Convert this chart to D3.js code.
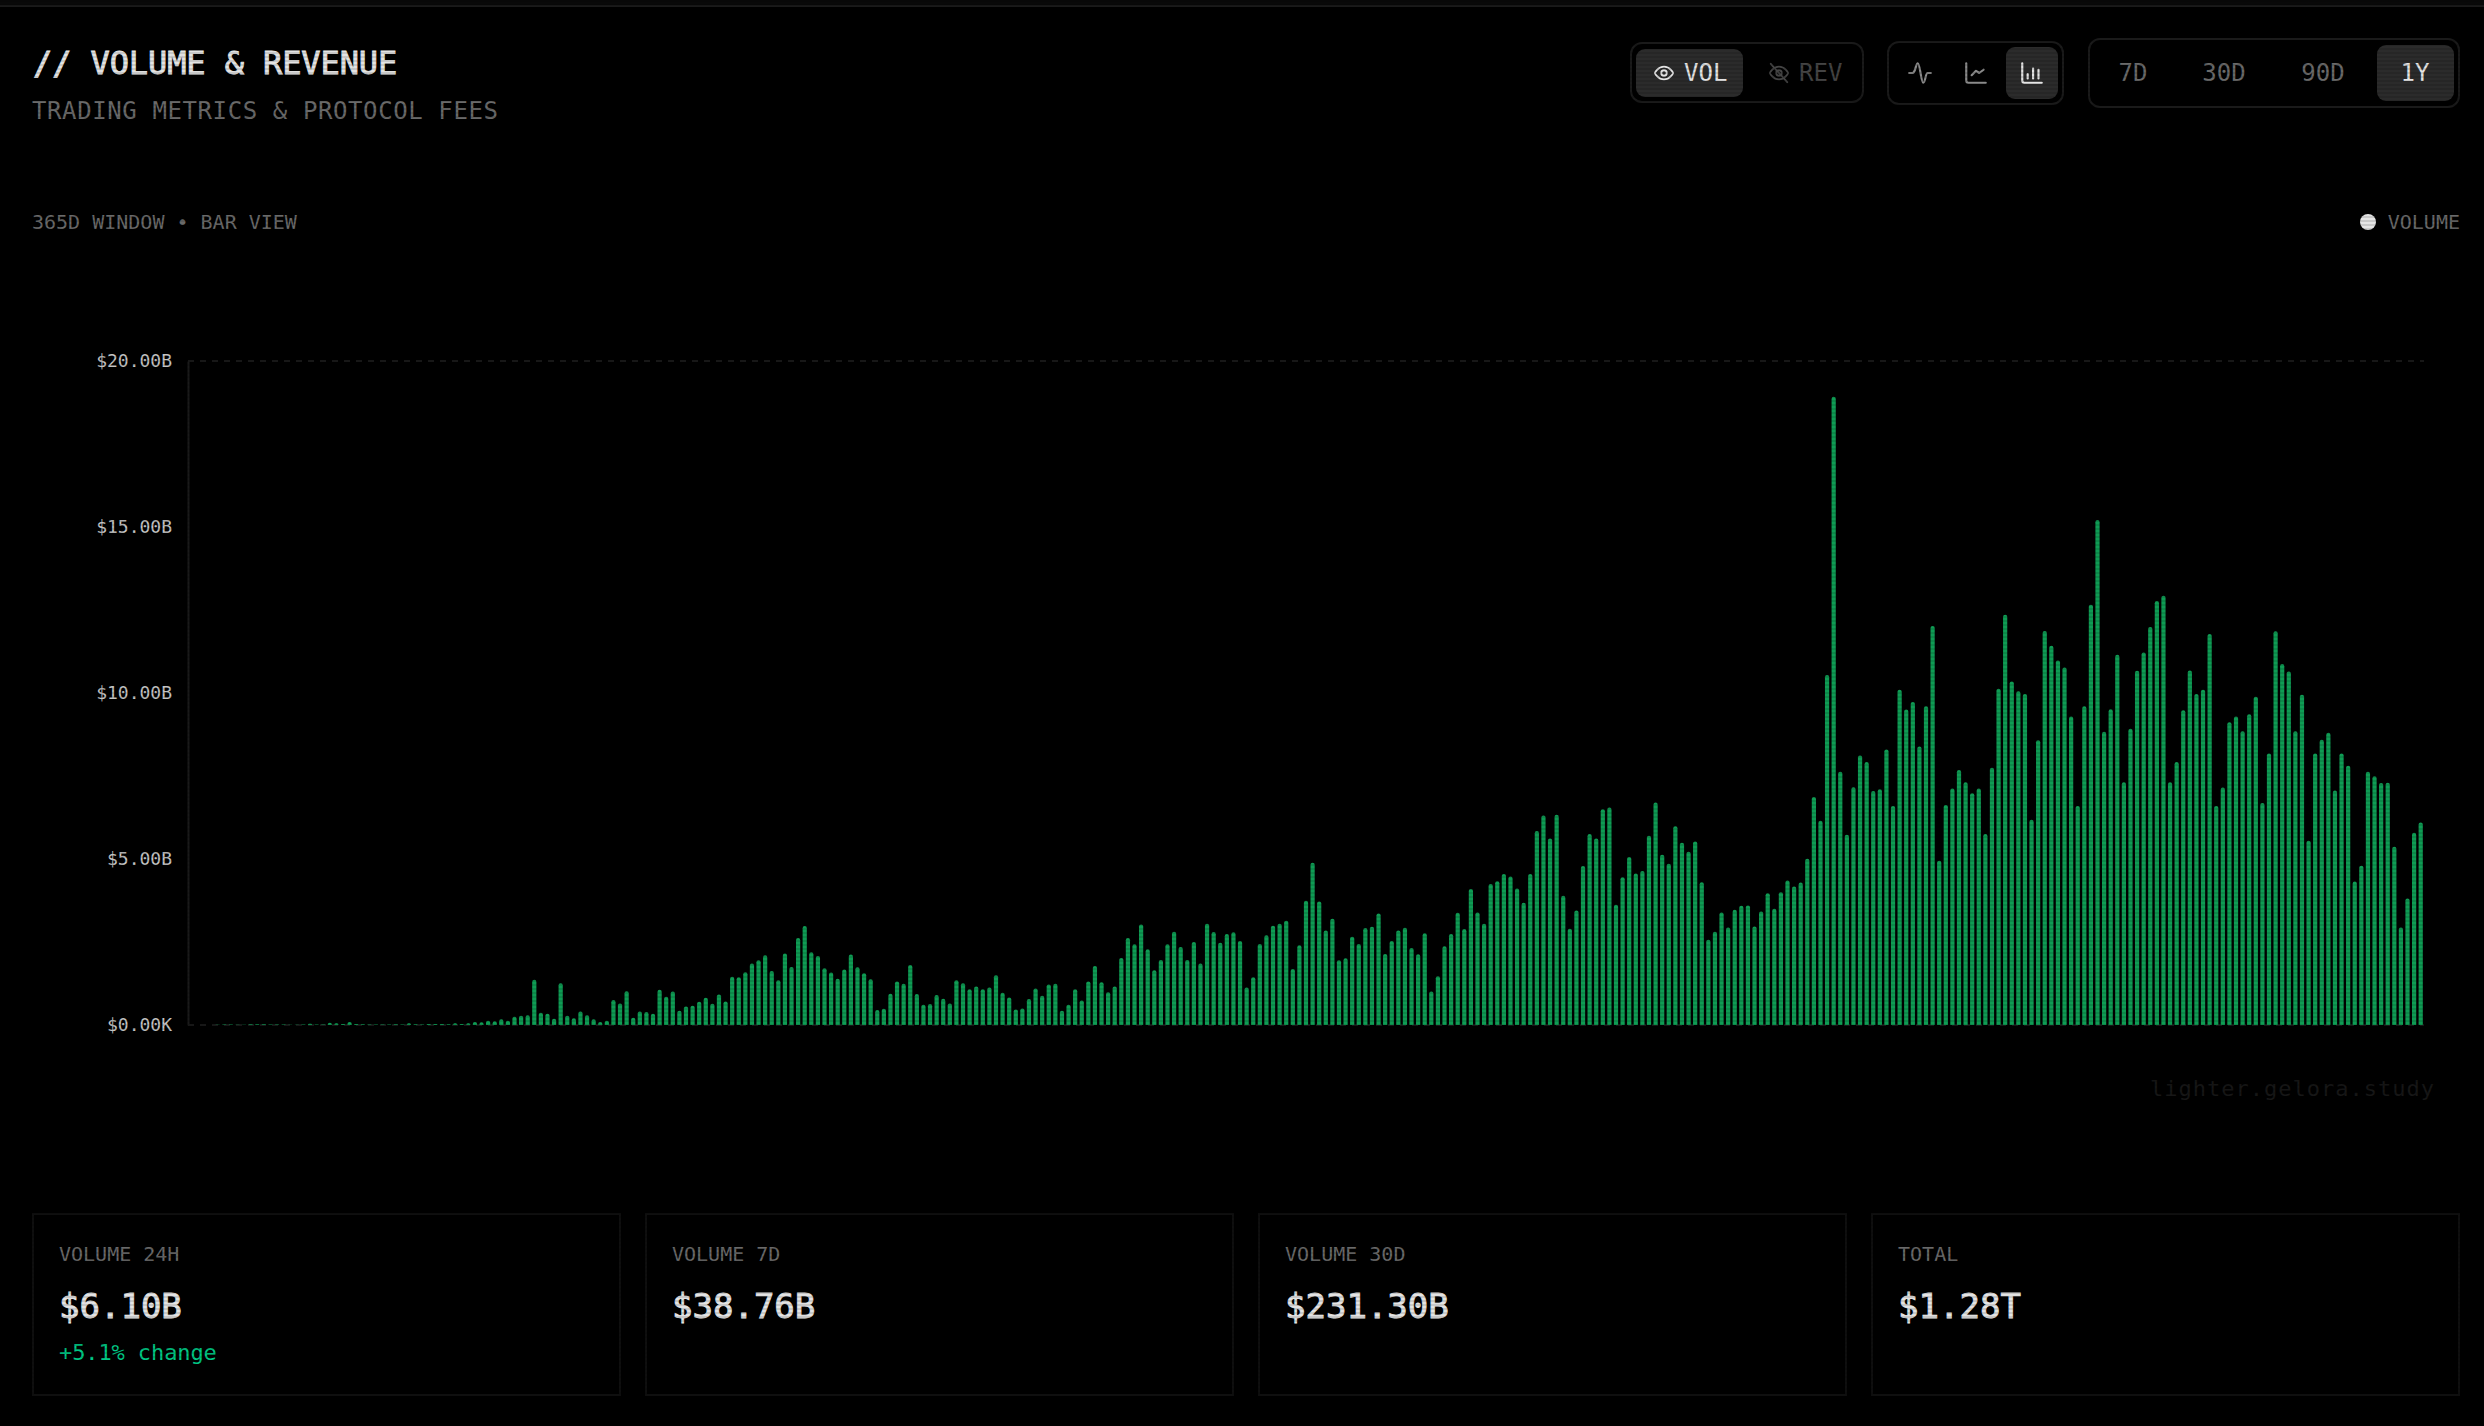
<!DOCTYPE html>
<html>
<head>
<meta charset="utf-8">
<title>Volume &amp; Revenue</title>
<script src="https://cdn.jsdelivr.net/npm/d3@7"></script>
<style>
  html, body { margin: 0; padding: 0; background: #000; overflow: hidden; }
  #chart { position: relative; width: 2484px; height: 1426px; }
  svg { display: block; }
  text { font-family: "DejaVu Sans Mono", monospace; }
  /* faint scanlines over the whole page */
  #scan {
    position: absolute; inset: 0; pointer-events: none;
    background: repeating-linear-gradient(0deg, rgba(0,0,0,0.12) 0 2px, transparent 2px 4px);
  }
</style>
</head>
<body>
<div id="chart"><div id="scan"></div></div>
<script>
// Daily volume in $B, oldest first
const volumeValues = [
  0, 0, 0, 0, .01, .015, .015, .01, .01, .02, .02, .02, .015, .015, .015, .01, .01, .015, .04, .015,
  .015, .07, .05, .03, .09, .03, .02, .015, .015, .015, .015, .02, .015, .05, .025, .015, .03, .03, .03, .025,
  .05, .03, .05, .09, .08, .13, .11, .17, .13, .25, .28, .29, 1.36, .37, .34, .19, 1.26, .28, .20, .41,
  .29, .17, .09, .13, .75, .65, 1.02, .22, .41, .39, .34, 1.06, .85, 1.01, .43, .56, .58, .70, .82, .64,
  .92, .71, 1.45, 1.44, 1.59, 1.85, 1.95, 2.10, 1.63, 1.35, 2.15, 1.75, 2.62, 2.98, 2.19, 2.08, 1.71, 1.58, 1.39, 1.67,
  2.12, 1.74, 1.56, 1.38, .45, .49, .94, 1.31, 1.24, 1.81, .93, .61, .63, .90, .79, .65, 1.35, 1.26, 1.08, 1.16,
  1.08, 1.13, 1.50, .97, .83, .47, .50, .78, 1.10, .88, 1.22, 1.24, .43, .61, 1.08, .74, 1.31, 1.78, 1.29, .99,
  1.16, 2.02, 2.62, 2.43, 3.03, 2.28, 1.65, 1.96, 2.43, 2.81, 2.35, 1.96, 2.50, 1.85, 3.05, 2.80, 2.48, 2.74, 2.79, 2.53,
  1.13, 1.44, 2.44, 2.70, 2.99, 3.05, 3.14, 1.69, 2.40, 3.74, 4.89, 3.72, 2.85, 3.20, 1.95, 2.01, 2.66, 2.44, 2.92, 2.96,
  3.36, 2.14, 2.53, 2.85, 2.93, 2.32, 2.13, 2.76, 1.01, 1.47, 2.37, 2.74, 3.38, 2.89, 4.10, 3.39, 3.05, 4.25, 4.33, 4.55,
  4.47, 4.11, 3.68, 4.55, 5.84, 6.31, 5.62, 6.33, 3.89, 2.90, 3.45, 4.79, 5.75, 5.62, 6.50, 6.55, 3.62, 4.45, 5.06, 4.56,
  4.64, 5.70, 6.70, 5.13, 4.86, 5.99, 5.49, 5.22, 5.53, 4.30, 2.57, 2.81, 3.39, 2.94, 3.47, 3.59, 3.60, 2.97, 3.42, 3.97,
  3.50, 4.00, 4.35, 4.17, 4.29, 5.01, 6.87, 6.15, 10.54, 18.92, 7.63, 5.73, 7.16, 8.12, 7.92, 7.05, 7.10, 8.30, 6.60, 10.10,
  9.50, 9.73, 8.39, 9.60, 12.02, 4.95, 6.63, 7.12, 7.68, 7.31, 6.98, 7.12, 5.75, 7.75, 10.13, 12.36, 10.35, 10.05, 9.97, 6.18,
  8.58, 11.87, 11.42, 10.98, 10.77, 9.29, 6.60, 9.60, 12.66, 15.21, 8.83, 9.51, 11.15, 7.31, 8.92, 10.67, 11.22, 11.99, 12.77, 12.93,
  7.31, 7.92, 9.48, 10.68, 9.97, 10.10, 11.78, 6.60, 7.15, 9.12, 9.29, 8.85, 9.36, 9.89, 6.69, 8.18, 11.86, 10.87, 10.65, 8.85,
  9.95, 5.55, 8.18, 8.59, 8.80, 7.06, 8.18, 7.81, 4.32, 4.80, 7.63, 7.49, 7.29, 7.30, 5.37, 2.94, 3.81, 5.79, 6.10
];

const yTickValues = [0, 5, 10, 15, 20];
const rangeLabels = ['7D', '30D', '90D', '1Y'];
const statLabels = ['VOLUME 24H', 'VOLUME 7D', 'VOLUME 30D', 'TOTAL'];
const statValues = ['$6.10B', '$38.76B', '$231.30B', '$1.28T'];

const COLORS = {
  bar: '#0f9c54',
  axis: '#1a1a1a',
  tick: '#c4c4c4',
  panel: '#1a1a1a',
  card: '#0f0f0f',
  active: '#2b2b2b',
  bright: '#e4e4e4',
  mid: '#6a6a6a',
  dim: '#444444',
  green: '#00c985',
};

const svg = d3.select('#chart')
  .insert('svg', '#scan')
  .attr('width', 2484)
  .attr('height', 1426)
  .attr('viewBox', '0 0 2484 1426');

function label(g, x, y, str, size, fill, opts = {}) {
  const t = g.append('text')
    .attr('x', x)
    .attr('y', y)
    .attr('font-size', size)
    .attr('fill', fill)
    .attr('text-anchor', opts.anchor || 'start')
    .attr('letter-spacing', opts.spacing || 0)
    .text(str);
  // no medium weight installed, so thicken the regular face a little
  if (opts.medium) t.attr('stroke', fill).attr('stroke-width', opts.medium);
  return t;
}

function panel(g, x0, y0, x1, y1, active) {
  g.append('rect')
    .attr('x', x0).attr('y', y0)
    .attr('width', x1 - x0).attr('height', y1 - y0)
    .attr('rx', active ? 9 : 11)
    .attr('fill', active ? COLORS.active : 'none')
    .attr('stroke', active ? 'none' : COLORS.panel)
    .attr('stroke-width', 2);
}

// paths are in a 24x24 box, centred on cx,cy
function icon(g, cx, cy, size, paths, stroke, circle) {
  const k = size / 24;
  const ig = g.append('g')
    .attr('transform', `translate(${cx - size / 2},${cy - size / 2}) scale(${k})`)
    .attr('fill', 'none')
    .attr('stroke', stroke)
    .attr('stroke-width', 2)
    .attr('stroke-linecap', 'round')
    .attr('stroke-linejoin', 'round');
  paths.forEach(d => ig.append('path').attr('d', d));
  if (circle) ig.append('circle').attr('cx', 12).attr('cy', 12).attr('r', 3);
}

function renderHeader() {
  const g = svg.append('g').attr('class', 'header');
  g.append('rect').attr('width', 2484).attr('height', 5).attr('fill', '#090909');
  g.append('rect').attr('y', 5).attr('width', 2484).attr('height', 2).attr('fill', COLORS.panel);
  label(g, 33, 74, '// VOLUME & REVENUE', 32, COLORS.bright, { medium: 0.9, spacing: -0.1 });
  label(g, 32, 119, 'TRADING METRICS & PROTOCOL FEES', 24, COLORS.mid, { spacing: 0.6 });
  label(g, 32, 229, '365D WINDOW \u2022 BAR VIEW', 20, COLORS.mid);
  g.append('circle').attr('cx', 2368).attr('cy', 222).attr('r', 8).attr('fill', COLORS.bright);
  label(g, 2460, 229, 'VOLUME', 20, COLORS.mid, { anchor: 'end' });
}

function renderControls() {
  const g = svg.append('g').attr('class', 'controls');
  const eye = 'M2 12s3-7 10-7 10 7 10 7-3 7-10 7-10-7-10-7Z';

  // metric toggle
  panel(g, 1631, 43, 1863, 102);
  panel(g, 1636, 49, 1743, 97, true);
  icon(g, 1664, 73, 22, [eye], COLORS.bright, true);
  label(g, 1684, 81, 'VOL', 24, COLORS.bright);
  icon(g, 1779, 73, 22, [eye, 'M3 2l18 20'], COLORS.dim, true);
  label(g, 1799, 81, 'REV', 24, COLORS.dim);

  // chart type toggle
  panel(g, 1888, 42, 2063, 104);
  panel(g, 2006, 47, 2058, 99, true);
  icon(g, 1920, 73, 26, ['M2 12h3c3 0 3-9 5-9s3 18 5 18 2-9 4-9h3'], '#8a8a8a');
  icon(g, 1976, 73, 26, ['M3 3v16a2 2 0 0 0 2 2h16', 'm19 9-4 3-3-2-4 4'], '#8a8a8a');
  icon(g, 2032, 73, 26, ['M3 3v16a2 2 0 0 0 2 2h16', 'M8 17v-4', 'M13 17V8', 'M18 17v-8'], COLORS.bright);

  // range toggle
  panel(g, 2089, 39, 2459, 107);
  panel(g, 2377, 45, 2454, 101, true);
  const centers = [2133, 2224, 2323, 2415];
  rangeLabels.forEach((t, i) => {
    label(g, centers[i], 81, t, 24, i === 3 ? COLORS.bright : COLORS.mid, { anchor: 'middle' });
  });
}

function renderChart() {
  const g = svg.append('g').attr('class', 'plot');
  const x = d3.scaleBand()
    .domain(d3.range(volumeValues.length))
    .range([188, 2424])
    .paddingInner(0.36)
    .paddingOuter(0.18);
  const y = d3.scaleLinear().domain([0, 20]).range([1025, 361]);

  // only the top and bottom grid lines show in the source
  [0, 20].forEach(v => {
    g.append('line')
      .attr('x1', 188).attr('x2', 2424)
      .attr('y1', y(v)).attr('y2', y(v))
      .attr('stroke', COLORS.axis)
      .attr('stroke-width', 2)
      .attr('stroke-dasharray', '6 6');
  });

  const axis = d3.axisLeft(y)
    .tickValues(yTickValues)
    .tickSize(0)
    .tickPadding(16)
    .tickFormat(v => (v === 0 ? '$0.00K' : `$${v.toFixed(2)}B`));
  const ag = g.append('g').attr('transform', 'translate(188,0)').call(axis);
  ag.select('.domain').attr('stroke', COLORS.axis).attr('stroke-width', 2);
  ag.selectAll('text')
    .attr('fill', COLORS.tick)
    .attr('font-size', 18)
    .attr('font-family', '"DejaVu Sans Mono", monospace');

  // rounded tops, flat bottoms
  const barPath = (v, i) => {
    const bx = x(i), w = x.bandwidth(), top = y(v), base = y(0);
    const r = Math.min(w / 2, base - top);
    return `M${bx},${base}V${top + r}Q${bx},${top} ${bx + r},${top}H${bx + w - r}Q${bx + w},${top} ${bx + w},${top + r}V${base}Z`;
  };
  g.append('g').selectAll('path')
    .data(volumeValues)
    .join('path')
    .attr('d', barPath)
    .attr('fill', COLORS.bar);

  label(g, 2435, 1096, 'lighter.gelora.study', 22, '#171717', { anchor: 'end', spacing: 1 });
}

function renderCards() {
  const g = svg.append('g').attr('class', 'cards');
  const cardX = d3.scaleBand().domain(d3.range(4)).range([33, 2459]).paddingInner(0.0425);
  statLabels.forEach((t, i) => {
    const x0 = cardX(i);
    g.append('rect')
      .attr('x', x0).attr('y', 1214)
      .attr('width', cardX.bandwidth()).attr('height', 181)
      .attr('fill', 'none')
      .attr('stroke', COLORS.card)
      .attr('stroke-width', 2);
    label(g, x0 + 26, 1261, t, 20, COLORS.mid);
    label(g, x0 + 26, 1318, statValues[i], 34, COLORS.bright, { medium: 0.9 });
  });
  label(g, cardX(0) + 26, 1360, '+5.1% change', 22, COLORS.green, { spacing: -0.1 });
}

renderHeader();
renderControls();
renderChart();
renderCards();
</script>
</body>
</html>
